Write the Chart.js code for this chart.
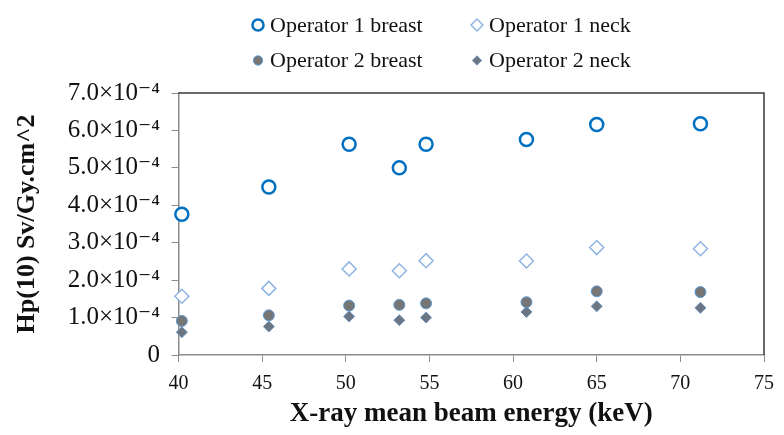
<!DOCTYPE html>
<html>
<head>
<meta charset="utf-8">
<script src="https://cdn.jsdelivr.net/npm/chart.js@4/dist/chart.umd.min.js"></script>
<style>
  html, body { margin: 0; padding: 0; background: #ffffff; }
</style>
</head>
<body>
<canvas id="chart" width="784" height="435"></canvas>
<script>
/// X-ray mean beam energy (keV) of each measurement
const X_KEV = [40.2, 45.4, 50.2, 53.2, 54.8, 60.8, 65.0, 71.2];

/// Hp(10) in Sv/Gy.cm^2
const OP1_BREAST = [3.76e-4, 4.49e-4, 5.63e-4, 5.00e-4, 5.63e-4, 5.76e-4, 6.16e-4, 6.18e-4];
const OP1_NECK   = [1.57e-4, 1.78e-4, 2.30e-4, 2.25e-4, 2.52e-4, 2.51e-4, 2.87e-4, 2.84e-4];
const OP2_BREAST = [0.91e-4, 1.06e-4, 1.32e-4, 1.34e-4, 1.38e-4, 1.41e-4, 1.70e-4, 1.68e-4];
const OP2_NECK   = [0.61e-4, 0.76e-4, 1.03e-4, 0.93e-4, 1.00e-4, 1.15e-4, 1.30e-4, 1.26e-4];

/// Series names, in legend order (row by row)
const SERIES_LABELS = ["Operator 1 breast", "Operator 1 neck", "Operator 2 breast", "Operator 2 neck"];

/// Tick labels
const X_TICK_LABELS = ["40", "45", "50", "55", "60", "65", "70", "75"];
const Y_TICK_LABELS = ["0", "1.0×10⁻⁴", "2.0×10⁻⁴", "3.0×10⁻⁴", "4.0×10⁻⁴",
                       "5.0×10⁻⁴", "6.0×10⁻⁴", "7.0×10⁻⁴"];

const X_TITLE = "X-ray mean beam energy (keV)";
const Y_TITLE = "Hp(10) Sv/Gy.cm^2";

const SERIF = "'Liberation Serif', 'DejaVu Serif', serif";
const AXIS_GREY = "#8c8c8c";

/// Helper – pair x values with one series.
function pts(ys) {
  return ys.map((y, i) => ({ x: X_KEV[i], y }));
}

/// Helper – scatter dataset descriptor.
function ds(label, ys, style) {
  return Object.assign({ label, data: pts(ys), showLine: false, clip: false }, style);
}

// ── Legend (two columns, two rows) ──────────────────────────────────

const LEGEND_COL_X = [258, 477];
const LEGEND_ROW_Y = [25, 60.5];

const legendGrid = {
  id: "legendGrid",
  afterDraw(chart) {
    const ctx = chart.ctx;
    chart.data.datasets.forEach((d, i) => {
      const mx = LEGEND_COL_X[i % 2];
      const my = LEGEND_ROW_Y[Math.floor(i / 2)];
      ctx.save();
      ctx.fillStyle = d.backgroundColor;
      ctx.strokeStyle = d.borderColor;
      ctx.lineWidth = d.borderWidth;
      Chart.helpers.drawPoint(ctx, {
        pointStyle: d.pointStyle,
        radius: d.pointRadius * 0.85,
        borderWidth: d.borderWidth,
        rotation: 0
      }, mx, my);
      ctx.fillStyle = "#111111";
      ctx.font = "22px " + SERIF;
      ctx.textAlign = "left";
      ctx.textBaseline = "middle";
      ctx.fillText(d.label, mx + 12, my + 1);
      ctx.restore();
    });
  }
};

// ── Top / right frame ───────────────────────────────────────────────

const frame = {
  id: "frame",
  afterDatasetsDraw(chart) {
    const { ctx, chartArea: a } = chart;
    ctx.save();
    ctx.strokeStyle = "#3a3a3a";
    ctx.lineWidth = 1.5;
    ctx.beginPath();
    ctx.moveTo(a.left, a.top);
    ctx.lineTo(a.right, a.top);
    ctx.lineTo(a.right, a.bottom);
    ctx.stroke();
    ctx.restore();
  }
};

new Chart(document.getElementById("chart"), {
  type: "scatter",
  data: {
    datasets: [
      ds(SERIES_LABELS[0], OP1_BREAST, {
        pointStyle: "circle", pointRadius: 6.5, borderWidth: 2.5,
        borderColor: "#0070c0", backgroundColor: "#ffffff"
      }),
      ds(SERIES_LABELS[1], OP1_NECK, {
        pointStyle: "rectRot", pointRadius: 7, borderWidth: 1.5,
        borderColor: "#8eb4e3", backgroundColor: "#ffffff"
      }),
      ds(SERIES_LABELS[2], OP2_BREAST, {
        pointStyle: "circle", pointRadius: 5.5, borderWidth: 1,
        borderColor: "#5b9bd5", backgroundColor: "#767676"
      }),
      ds(SERIES_LABELS[3], OP2_NECK, {
        pointStyle: "rectRot", pointRadius: 5.5, borderWidth: 1,
        borderColor: "#6f93bf", backgroundColor: "#6b7682"
      })
    ]
  },
  options: {
    responsive: false,
    animation: false,
    layout: { padding: { top: 93, right: 10.5, bottom: 0, left: 0 } },
    plugins: {
      legend: { display: false },
      tooltip: { enabled: false }
    },
    scales: {
      x: {
        type: "linear",
        min: 40, max: 75,
        afterFit(s) { s.height = 80; },
        afterBuildTicks(s) { s.ticks = X_TICK_LABELS.map(t => ({ value: Number(t) })); },
        ticks: {
          padding: 10,
          color: "#111111",
          font: { family: SERIF, size: 20 },
          callback: (v, i) => X_TICK_LABELS[i]
        },
        grid: { drawOnChartArea: false, drawTicks: true, tickLength: 7, color: AXIS_GREY },
        border: { display: true, color: AXIS_GREY, width: 1.5 },
        title: {
          display: true, text: X_TITLE, color: "#111111",
          font: { family: SERIF, size: 27, weight: "bold" },
          padding: { top: 0, bottom: 5 }
        }
      },
      y: {
        min: 0, max: 7e-4,
        afterFit(s) { s.width = 178.5; },
        afterBuildTicks(s) { s.ticks = Y_TICK_LABELS.map((t, i) => ({ value: i * 1e-4 })); },
        ticks: {
          padding: 11.5,
          color: "#111111",
          font: { family: SERIF, size: 25 },
          callback: (v, i) => Y_TICK_LABELS[i]
        },
        grid: { drawOnChartArea: false, drawTicks: true, tickLength: 7, color: AXIS_GREY },
        border: { display: true, color: AXIS_GREY, width: 1.5 },
        title: {
          display: true, text: Y_TITLE, color: "#111111",
          font: { family: SERIF, size: 26, weight: "bold" },
          padding: { top: 12, bottom: 0 }
        }
      }
    }
  },
  plugins: [frame, legendGrid]
});
</script>
</body>
</html>
